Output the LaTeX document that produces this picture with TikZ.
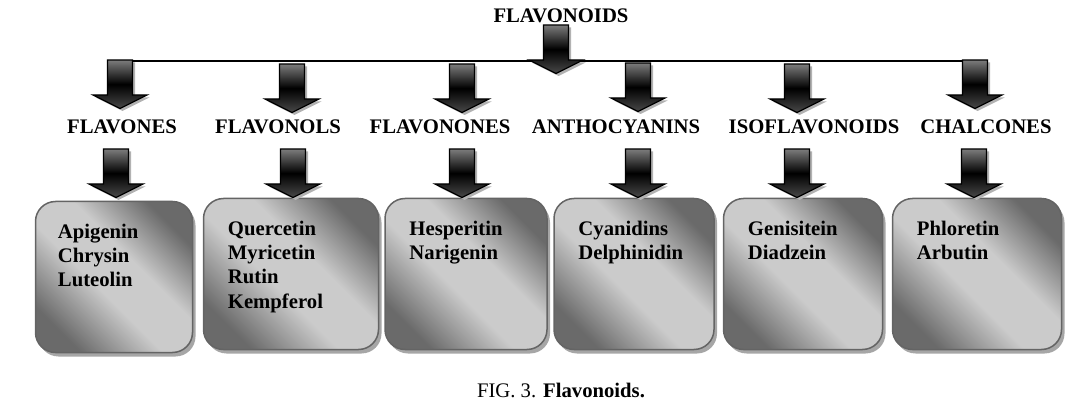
\documentclass[tikz,border=0pt]{standalone}
\usepackage{fontspec}
\setmainfont{Liberation Serif}
\usepackage{tikz}
\usetikzlibrary{shadows, positioning}

\definecolor{hopdam}{HTML}{6A6A6A}
\definecolor{hopnhat}{HTML}{CBCBCB}
\definecolor{vienhop}{HTML}{646464}
\definecolor{tentren}{HTML}{7C7C7C}
\definecolor{tenduoi}{HTML}{484848}

\pgfdeclareverticalshading{hopsang}{100bp}{color(0bp)=(hopdam); color(25bp)=(hopdam);
  color(44bp)=(hopnhat); color(58bp)=(hopnhat); color(75bp)=(hopdam); color(100bp)=(hopdam)}

\tikzset{
  chu/.style={font=\fontsize{20.7}{24.3}\selectfont\bfseries, inner sep=0pt},
  hop/.style={draw=vienhop, line width=1.5pt, rounded corners=20pt,
    shade, shading=hopsang, shading angle=-45,
    drop shadow={shadow xshift=3pt, shadow yshift=-4pt, fill=gray!70, opacity=1},
    minimum height=151pt},
  muiten/.pic={
    \draw[line width=1.2pt, top color=tentren, bottom color=tenduoi, middle color=black,
      drop shadow={shadow xshift=2.5pt, shadow yshift=-2.5pt, fill=gray!60, opacity=1}]
      (-12.5,0) -- (12.5,0) -- (12.5,35) -- (27,35) -- (0,48.5) -- (-27,35) -- (-12.5,35) -- cycle;
  }
}

\begin{document}
\begin{tikzpicture}[x=1pt, y=-1pt]
  \useasboundingbox (0,0) rectangle (1090,406);

  % Tiêu đề và đường ngang
  \node[chu] (goc) at (561,16) {FLAVONOIDS};
  \coordinate (n1) at (119,61);
  \coordinate (n6) at (986,61);
  \draw[line width=1.1pt] (n1) -- (n6);
  \pic (m0) at (556,25) {muiten};

  % Mũi tên hàng trên
  \foreach \x/\y [count=\i] in {120/60, 292/64, 462/64, 638/63, 797/64, 975/60}
    \pic (a\i) at (\x,\y) {muiten};

  % Tên các nhóm
  \node[chu] (l1) at (122,127) {FLAVONES};
  \node[chu] (l2) at (278,127) {FLAVONOLS};
  \node[chu] (l3) at (440,127) {FLAVONONES};
  \node[chu] (l4) at (616,127) {ANTHOCYANINS};
  \node[chu] (l5) at (814,127) {ISOFLAVONOIDS};
  \node[chu] (l6) at (986,127) {CHALCONES};

  % Các hộp
  \node[hop, minimum width=157pt] (b1) at (114,277) {};
  \node[hop, minimum width=175pt] (b2) at (291,274) {};
  \node[hop, minimum width=162pt] (b3) at (466,274) {};
  \node[hop, minimum width=160pt] (b4) at (634,274) {};
  \node[hop, minimum width=159pt] (b5) at (803,274) {};
  \node[hop, minimum width=169pt] (b6) at (977,274) {};

  \node[chu, align=left, below right=23pt and 23pt of b1.north west] (t1) {Apigenin\\Chrysin\\Luteolin};
  \node[chu, align=left, below right=23pt and 25pt of b2.north west] (t2) {Quercetin\\Myricetin\\Rutin\\Kempferol};
  \node[chu, align=left, below right=23pt and 25pt of b3.north west] (t3) {Hesperitin\\Narigenin};
  \node[chu, align=left, below right=23pt and 25pt of b4.north west] (t4) {Cyanidins\\Delphinidin};
  \node[chu, align=left, below right=23pt and 25pt of b5.north west] (t5) {Genisitein\\Diadzein};
  \node[chu, align=left, below right=23pt and 25pt of b6.north west] (t6) {Phloretin\\Arbutin};

  % Mũi tên hàng dưới
  \foreach \x [count=\i] in {116, 293, 462, 638, 797, 974}
    \pic (c\i) at (\x,149) {muiten};

  % Chú thích
  \node[font=\fontsize{20.7}{24}\selectfont, inner sep=0pt] (hinh) at (561,390) {FIG. 3. \textbf{Flavonoids.}};
\end{tikzpicture}
\end{document}
